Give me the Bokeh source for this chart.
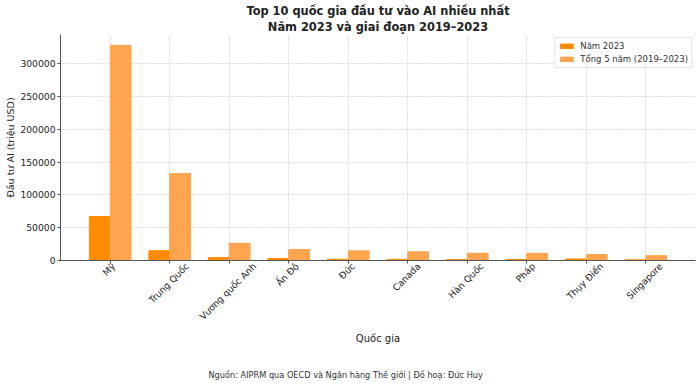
import unicodedata
import numpy as np
from bokeh.plotting import figure
from bokeh.models import (ColumnDataSource, Legend, LegendItem, FixedTicker,
                          BasicTickFormatter, Range1d, Title, LinearAxis)
from bokeh.transform import dodge
from bokeh.embed import file_html
from bokeh.resources import INLINE

countries = ["Mỹ", "Trung Quốc", "Vương quốc Anh", "Ấn Độ", "Đức",
             "Canada", "Hàn Quốc", "Pháp", "Thụy Điển", "Singapore"]
inv_2023 = [67200, 15000, 4500, 3200, 2000, 1800, 1400, 1600, 2300, 1100]
inv_5yr = [328500, 132700, 26300, 16700, 14700, 13200, 11100, 11000, 9100, 7300]
y_ticks = [0, 50000, 100000, 150000, 200000, 250000, 300000]

title_line1 = "Top 10 quốc gia đầu tư vào AI nhiều nhất"
title_line2 = "Năm 2023 và giai đoạn 2019–2023"
x_label = "Quốc gia"
y_label = "Đầu tư AI (triệu USD)"
footnote = "Nguồn: AIPRM qua OECD và Ngân hàng Thế giới | Đồ hoạ: Đức Huy"
legend_labels = ["Năm 2023", "Tổng 5 năm (2019–2023)"]

FONT = "DejaVu Sans"
C1 = "#FF8C00"
C2 = "#FFA54F"
TEXT = "#222222"

# layout constants
W, H = 700, 386
FL, FR, FT, FB = 60, 5, 34, 126
X0, X1 = -0.835, 9.835
TICK_FS = 9.2

# approximate DejaVu Sans advance widths (em) for centring rotated labels
EM = {"a": .613, "b": .635, "c": .55, "d": .635, "e": .615, "g": .635, "h": .634,
      "i": .278, "n": .634, "o": .612, "p": .635, "r": .411, "s": .521, "t": .392,
      "u": .634, "y": .592, " ": .318, "A": .684, "C": .698, "D": .77, "Đ": .77,
      "H": .752, "M": .863, "P": .603, "Q": .787, "S": .635, "T": .611, "V": .684}


def text_px(s, fs):
    tot = 0.0
    for ch in s:
        base = unicodedata.normalize("NFD", ch)[0]
        tot += EM.get(ch, EM.get(base, 0.6))
    return tot * fs


idx = list(range(len(countries)))
src = ColumnDataSource(dict(x=idx, a=inv_2023, b=inv_5yr))

p = figure(width=W, height=H, output_backend="svg", toolbar_location=None,
           x_range=Range1d(X0, X1), y_range=Range1d(0, 345000),
           min_border_left=FL, min_border_right=FR, min_border_top=FT,
           min_border_bottom=FB)
p.outline_line_color = None

# p.title ends up outermost -> first line; extra Title sits next to the frame
p.title.text = title_line1
p.title.align = "center"
p.title.text_font = FONT
p.title.text_font_size = "11.4px"
p.title.text_font_style = "bold"
p.title.text_color = TEXT
p.title.standoff = 0
t2 = Title(text=title_line2, align="center", text_font=FONT, text_font_size="11.4px",
           text_font_style="bold", text_color=TEXT, standoff=1)
p.add_layout(t2, "above")

r1 = p.vbar(x=dodge("x", -0.175, range=p.x_range), top="a", width=0.35,
            source=src, fill_color=C1, line_color=C1)
r2 = p.vbar(x=dodge("x", 0.175, range=p.x_range), top="b", width=0.35,
            source=src, fill_color=C2, line_color=C2)

# main x axis: tick marks only
p.xaxis.ticker = FixedTicker(ticks=idx)
p.xaxis.major_label_overrides = {i: "" for i in idx}
p.xaxis.major_label_text_font_size = "1px"
p.xaxis.major_label_standoff = 0

p.yaxis.ticker = FixedTicker(ticks=y_ticks)
p.yaxis.formatter = BasicTickFormatter(use_scientific=False)
p.yaxis.axis_label = y_label

for ax in (p.xaxis, p.yaxis):
    ax.axis_line_color = "#555555"
    ax.major_tick_line_color = "#555555"
    ax.major_tick_out = 3
    ax.major_tick_in = 0
    ax.minor_tick_line_color = None
p.yaxis.major_label_text_font = FONT
p.yaxis.major_label_text_font_size = f"{TICK_FS}px"
p.yaxis.major_label_text_color = TEXT
p.yaxis.major_label_standoff = 2
p.yaxis.axis_label_text_font = FONT
p.yaxis.axis_label_text_font_size = "9.5px"
p.yaxis.axis_label_text_font_style = "normal"
p.yaxis.axis_label_text_color = TEXT
p.yaxis.axis_label_standoff = 1

# label axis: rotated labels centred on their ticks (matplotlib style)
px_per_unit = (W - FL - FR) / (X1 - X0)
label_pos = []
for i, c in zip(idx, countries):
    shift_px = 0.354 * text_px(c, TICK_FS) - 1.5
    label_pos.append(round(i + shift_px / px_per_unit, 4))
lab_ax = LinearAxis(ticker=FixedTicker(ticks=label_pos),
                    major_label_overrides={pos: c for pos, c in zip(label_pos, countries)},
                    major_label_orientation=np.pi / 4,
                    axis_line_color=None, major_tick_line_color=None,
                    minor_tick_line_color=None, major_tick_out=0, major_tick_in=0,
                    major_label_standoff=1,
                    major_label_text_font=FONT,
                    major_label_text_font_size=f"{TICK_FS}px",
                    major_label_text_color=TEXT,
                    axis_label=x_label, axis_label_text_font=FONT,
                    axis_label_text_font_size="10px",
                    axis_label_text_font_style="normal",
                    axis_label_text_color=TEXT, axis_label_standoff=4)
p.add_layout(lab_ax, "below")

p.xgrid.ticker = FixedTicker(ticks=idx)
p.ygrid.ticker = FixedTicker(ticks=y_ticks)
for g in (p.xgrid, p.ygrid):
    g.grid_line_color = "#dcdcdc"
    g.grid_line_dash = "4 1"
    g.grid_line_alpha = 0.8

legend = Legend(items=[LegendItem(label=legend_labels[0], renderers=[r1]),
                       LegendItem(label=legend_labels[1], renderers=[r2])],
                location="top_right")
legend.label_text_font = FONT
legend.label_text_font_size = "8.5px"
legend.label_text_color = "#333333"
legend.glyph_width = 16
legend.glyph_height = 6
legend.label_height = 9
legend.spacing = 3
legend.padding = 3
legend.margin = 3
legend.label_standoff = 6
legend.border_line_color = "#cccccc"
legend.background_fill_alpha = 0.9
p.add_layout(legend)

spacer = Title(text=" ", text_font_size="1px", standoff=14)
p.add_layout(spacer, "below")
foot = Title(text=footnote, align="left", text_font=FONT, text_font_size="8.2px",
             text_font_style="normal", text_color="#333333", standoff=8,
             offset=208 - FL)
p.add_layout(foot, "below")

open("out.html", "w").write(file_html(p, INLINE))
